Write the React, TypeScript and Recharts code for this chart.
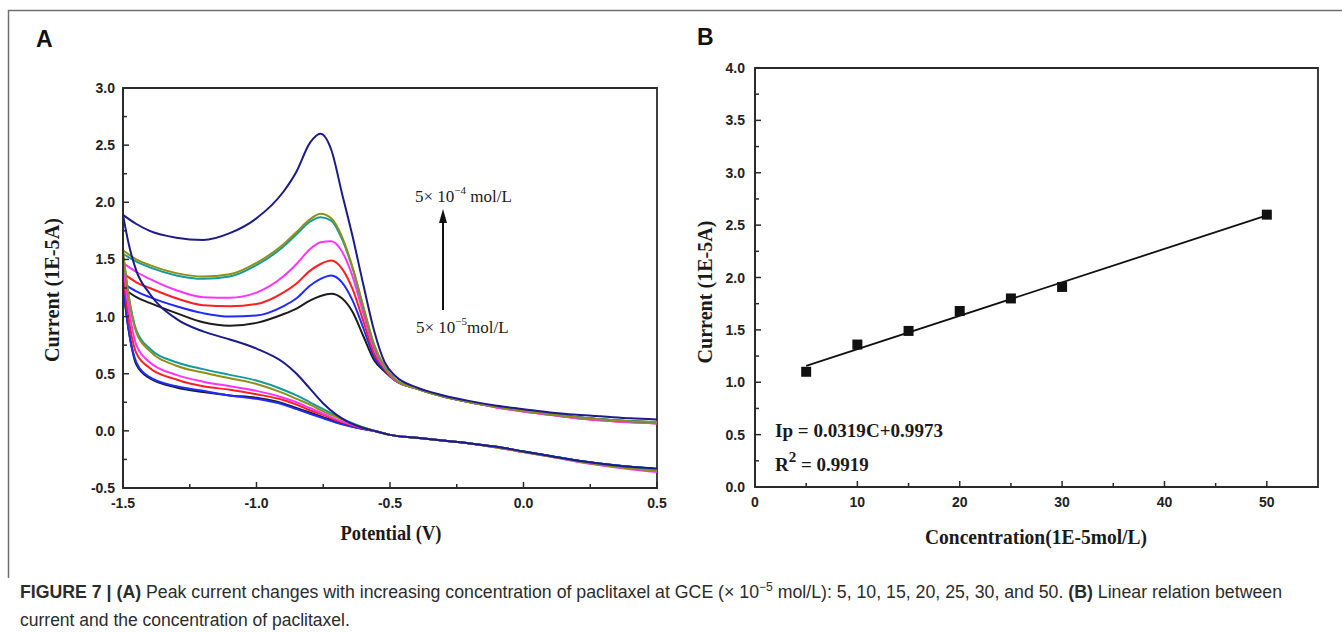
import React from "react";
import {
  LineChart, ComposedChart, Line, Scatter, XAxis, YAxis, ZAxis, ReferenceArea,
} from "recharts";

// ---------- panel A: cyclic voltammograms (V vs 1E-5 A) ----------
const fwdPotential = [-1.5, -1.45, -1.4, -1.3, -1.2, -1.1, -1.0, -0.9, -0.85, -0.8, -0.76, -0.72, -0.68, -0.64, -0.6, -0.56, -0.52, -0.48, -0.4, -0.3, -0.2, -0.1, 0.0, 0.1, 0.2, 0.3, 0.4, 0.5];
const revPotential = [-1.5, -1.48, -1.45, -1.4, -1.3, -1.2, -1.1, -1.0, -0.9, -0.85, -0.8, -0.75, -0.7, -0.65, -0.6, -0.55, -0.5, -0.4, -0.3, -0.2, -0.1, 0.0, 0.1, 0.2, 0.3, 0.4, 0.5];

// forward (anodic) sweep, one array per concentration (x 1E-5 mol/L)
const fwd5 = [1.25, 1.17, 1.12, 1.03, 0.95, 0.92, 0.945, 1.02, 1.07, 1.14, 1.18, 1.20, 1.16, 1.04, 0.83, 0.62, 0.52, 0.44, 0.37, 0.30, 0.25, 0.21, 0.175, 0.145, 0.12, 0.10, 0.085, 0.075];
const fwd10 = [1.29, 1.22, 1.17, 1.09, 1.03, 1.00, 1.01, 1.09, 1.16, 1.27, 1.33, 1.36, 1.30, 1.14, 0.90, 0.65, 0.53, 0.44, 0.37, 0.30, 0.25, 0.21, 0.175, 0.145, 0.12, 0.10, 0.085, 0.075];
const fwd15 = [1.38, 1.30, 1.25, 1.16, 1.10, 1.09, 1.11, 1.21, 1.29, 1.40, 1.46, 1.49, 1.42, 1.24, 0.96, 0.68, 0.54, 0.44, 0.37, 0.30, 0.25, 0.205, 0.17, 0.14, 0.11, 0.09, 0.075, 0.065];
const fwd20 = [1.47, 1.39, 1.33, 1.23, 1.17, 1.165, 1.21, 1.35, 1.46, 1.59, 1.65, 1.66, 1.57, 1.35, 1.03, 0.72, 0.55, 0.44, 0.37, 0.30, 0.25, 0.205, 0.17, 0.14, 0.11, 0.09, 0.075, 0.065];
const fwd25 = [1.55, 1.48, 1.43, 1.36, 1.33, 1.35, 1.45, 1.61, 1.72, 1.83, 1.87, 1.84, 1.68, 1.42, 1.08, 0.75, 0.56, 0.45, 0.37, 0.30, 0.25, 0.21, 0.175, 0.145, 0.12, 0.10, 0.085, 0.075];
const fwd30 = [1.58, 1.50, 1.45, 1.38, 1.35, 1.37, 1.47, 1.63, 1.74, 1.85, 1.90, 1.86, 1.70, 1.43, 1.09, 0.76, 0.56, 0.45, 0.37, 0.30, 0.25, 0.21, 0.175, 0.145, 0.12, 0.10, 0.085, 0.08];
const fwd50 = [1.89, 1.81, 1.75, 1.69, 1.67, 1.73, 1.86, 2.09, 2.27, 2.52, 2.60, 2.46, 2.08, 1.70, 1.28, 0.88, 0.60, 0.48, 0.38, 0.31, 0.26, 0.22, 0.19, 0.16, 0.14, 0.125, 0.11, 0.10];

// reverse (cathodic) sweep
const rev5 = [1.25, 0.90, 0.58, 0.46, 0.38, 0.34, 0.31, 0.29, 0.24, 0.20, 0.16, 0.12, 0.08, 0.045, 0.015, -0.005, -0.035, -0.06, -0.085, -0.11, -0.14, -0.18, -0.22, -0.26, -0.29, -0.315, -0.335];
const rev10 = [1.29, 0.90, 0.60, 0.47, 0.39, 0.35, 0.31, 0.28, 0.23, 0.19, 0.15, 0.11, 0.07, 0.04, 0.015, -0.005, -0.035, -0.06, -0.085, -0.11, -0.14, -0.18, -0.22, -0.26, -0.29, -0.315, -0.335];
const rev15 = [1.38, 1.00, 0.68, 0.55, 0.45, 0.39, 0.36, 0.32, 0.27, 0.23, 0.18, 0.14, 0.09, 0.055, 0.02, -0.005, -0.035, -0.06, -0.085, -0.11, -0.145, -0.185, -0.225, -0.265, -0.30, -0.325, -0.35];
const rev20 = [1.47, 1.10, 0.75, 0.60, 0.49, 0.43, 0.39, 0.35, 0.29, 0.25, 0.20, 0.15, 0.10, 0.06, 0.025, -0.005, -0.035, -0.06, -0.085, -0.11, -0.145, -0.185, -0.225, -0.27, -0.305, -0.335, -0.36];
const rev25 = [1.55, 1.20, 0.88, 0.72, 0.60, 0.54, 0.49, 0.44, 0.36, 0.31, 0.25, 0.19, 0.13, 0.075, 0.03, -0.005, -0.035, -0.06, -0.085, -0.11, -0.14, -0.18, -0.22, -0.26, -0.29, -0.315, -0.34];
const rev30 = [1.58, 1.20, 0.86, 0.70, 0.57, 0.51, 0.46, 0.41, 0.33, 0.28, 0.23, 0.17, 0.12, 0.07, 0.03, -0.005, -0.035, -0.06, -0.085, -0.11, -0.145, -0.185, -0.225, -0.265, -0.30, -0.33, -0.35];
const rev50 = [1.89, 1.65, 1.40, 1.20, 0.98, 0.87, 0.80, 0.72, 0.60, 0.50, 0.37, 0.24, 0.14, 0.07, 0.025, -0.005, -0.035, -0.06, -0.085, -0.11, -0.14, -0.18, -0.22, -0.26, -0.29, -0.315, -0.33];

const cvColors = ["#1c1c1c", "#1f2bff", "#ff1f1f", "#ff33ff", "#139b9b", "#8f8f1a", "#1b1b8a"];
const cvFwd = [fwd5, fwd10, fwd15, fwd20, fwd25, fwd30, fwd50];
const cvRev = [rev5, rev10, rev15, rev20, rev25, rev30, rev50];

const potentialTicks = [-1.5, -1.25, -1.0, -0.75, -0.5, -0.25, 0, 0.25, 0.5];
const cvCurrentTicks = [-0.5, -0.25, 0, 0.25, 0.5, 0.75, 1.0, 1.25, 1.5, 1.75, 2.0, 2.25, 2.5, 2.75, 3.0];

// ---------- panel B: calibration ----------
const concentration = [5, 10, 15, 20, 25, 30, 50];
const peakCurrent = [1.10, 1.36, 1.49, 1.68, 1.80, 1.91, 2.60];
const fitSlope = 0.0319;
const fitIntercept = 0.9973;
const fitRange = [5, 50];

const concTicks = [0, 5, 10, 15, 20, 25, 30, 35, 40, 45, 50];
const calCurrentTicks = [0, 0.25, 0.5, 0.75, 1.0, 1.25, 1.5, 1.75, 2.0, 2.25, 2.5, 2.75, 3.0, 3.25, 3.5, 3.75, 4.0];

const AXIS = "#2a2a2a";
const SERIF = '"Liberation Serif", "Times New Roman", serif';
const SANS = '"Liberation Sans", Arial, sans-serif';
const tickFont: React.CSSProperties = { fontFamily: SANS, fontWeight: 700, fontSize: 14, fill: "#222" };

const isMajor = (v: number, step: number) => Math.abs(v / step - Math.round(v / step)) < 1e-6;

function LeftTick(props: any) {
  const { x, y, payload, step, digits, gap } = props;
  const major = isMajor(payload.value, step);
  return (
    <g>
      <line x1={x} x2={x + (major ? 6 : 4)} y1={y} y2={y} stroke={AXIS} strokeWidth={1.5} />
      {major && (
        <text x={x - gap} y={y} dy="0.36em" textAnchor="end" style={tickFont}>
          {payload.value.toFixed(digits)}
        </text>
      )}
    </g>
  );
}

function BottomTick(props: any) {
  const { x, y, payload, step, digits } = props;
  const major = isMajor(payload.value, step);
  return (
    <g>
      <line x1={x} x2={x} y1={y} y2={y - (major ? 6 : 4)} stroke={AXIS} strokeWidth={1.5} />
      {major && (
        <text x={x} y={y + 20} textAnchor="middle" style={tickFont}>
          {payload.value.toFixed(digits)}
        </text>
      )}
    </g>
  );
}

function CvPanel() {
  return (
    <LineChart width={680} height={560} margin={{ top: 88, right: 23, bottom: 30, left: 0 }}>
      <XAxis
        type="number" dataKey="x" domain={[-1.5, 0.5]} ticks={potentialTicks} interval={0}
        height={42} tickSize={0} tickMargin={0} tickLine={false}
        axisLine={{ stroke: AXIS, strokeWidth: 1.8 }}
        tick={(p: any) => <BottomTick {...p} step={0.5} digits={1} />}
      />
      <YAxis
        type="number" domain={[-0.5, 3.0]} ticks={cvCurrentTicks} interval={0}
        width={123} tickSize={0} tickMargin={0} tickLine={false}
        axisLine={{ stroke: AXIS, strokeWidth: 1.8 }}
        tick={(p: any) => <LeftTick {...p} step={0.5} digits={1} gap={8} />}
      />
      {cvFwd.map((ys, k) => (
        <Line
          key={"f" + k}
          data={fwdPotential.map((x, i) => ({ x, y: ys[i] }))}
          dataKey="y" type="monotone" stroke={cvColors[k]} strokeWidth={2}
          dot={false} isAnimationActive={false}
        />
      ))}
      {cvRev.map((ys, k) => (
        <Line
          key={"r" + k}
          data={revPotential.map((x, i) => ({ x, y: ys[i] }))}
          dataKey="y" type="monotone" stroke={cvColors[k]} strokeWidth={2}
          dot={false} isAnimationActive={false}
        />
      ))}
      <ReferenceArea x1={-1.5} x2={0.5} y1={-0.5} y2={3.0} fill="none" fillOpacity={0} stroke={AXIS} strokeWidth={1.8} ifOverflow="visible" />
    </LineChart>
  );
}

function CalibrationPanel() {
  const points = concentration.map((x, i) => ({ x, y: peakCurrent[i] }));
  const fit = fitRange.map((x) => ({ x, y: fitSlope * x + fitIntercept }));
  return (
    <ComposedChart width={652} height={560} margin={{ top: 68, right: 24, bottom: 30, left: 0 }}>
      <XAxis
        type="number" dataKey="x" domain={[0, 55]} ticks={concTicks} interval={0}
        height={43} tickSize={0} tickMargin={0} tickLine={false}
        axisLine={{ stroke: AXIS, strokeWidth: 1.8 }}
        tick={(p: any) => <BottomTick {...p} step={10} digits={0} />}
      />
      <YAxis
        type="number" dataKey="y" domain={[0, 4.0]} ticks={calCurrentTicks} interval={0}
        width={65} tickSize={0} tickMargin={0} tickLine={false}
        axisLine={{ stroke: AXIS, strokeWidth: 1.8 }}
        tick={(p: any) => <LeftTick {...p} step={0.5} digits={1} gap={10} />}
      />
      <ZAxis range={[100, 100]} />
      <Line data={fit} dataKey="y" type="linear" stroke="#111" strokeWidth={1.8} dot={false} isAnimationActive={false} />
      <Scatter data={points} shape="square" fill="#111" isAnimationActive={false} />
      <ReferenceArea x1={0} x2={55} y1={0} y2={4.0} fill="none" fillOpacity={0} stroke={AXIS} strokeWidth={1.8} ifOverflow="visible" />
    </ComposedChart>
  );
}

export default function App() {
  const axisTitle: React.CSSProperties = { fontFamily: SERIF, fontWeight: 700, fontSize: 20, fill: "#1a1a1a" };
  const note: React.CSSProperties = { fontFamily: SERIF, fontSize: 17, fill: "#1a1a1a" };
  const caption: React.CSSProperties = { fontFamily: SANS, fontSize: 17.5, fill: "#2b2b2b" };
  return (
    <div style={{ position: "absolute", left: 0, top: 0, width: 1342, height: 633, background: "#fff", overflow: "hidden" }}>
      <div style={{ position: "absolute", left: 0, top: 0 }}>
        <CvPanel />
      </div>
      <div style={{ position: "absolute", left: 690, top: 0 }}>
        <CalibrationPanel />
      </div>
      <svg width={1342} height={633} style={{ position: "absolute", left: 0, top: 0, pointerEvents: "none" }}>
        {/* page frame */}
        <line x1={8} x2={1342} y1={10.5} y2={10.5} stroke="#6f6f6f" strokeWidth={1.5} />
        <line x1={8.5} x2={8.5} y1={10} y2={578} stroke="#6f6f6f" strokeWidth={1.5} />

        {/* panel letters */}
        <text x={36} y={47} style={{ fontFamily: SANS, fontWeight: 700, fontSize: 23, fill: "#111" }}>A</text>
        <text x={697} y={45} style={{ fontFamily: SANS, fontWeight: 700, fontSize: 23, fill: "#111" }}>B</text>

        {/* panel A titles and annotation */}
        <text x={52} y={290} transform="rotate(-90 52 290)" dy="0.35em" textAnchor="middle" textLength={144} lengthAdjust="spacingAndGlyphs" style={axisTitle}>Current (1E-5A)</text>
        <text x={391} y={540} textAnchor="middle" textLength={101} lengthAdjust="spacingAndGlyphs" style={axisTitle}>Potential (V)</text>
        <text x={415} y={202} style={note}>
          5× 10<tspan dy={-8} fontSize={11}>−4</tspan><tspan dy={8}> mol/L</tspan>
        </text>
        <text x={416} y={333} style={note}>
          5× 10<tspan dy={-8} fontSize={11}>−5</tspan><tspan dy={8}>mol/L</tspan>
        </text>
        <line x1={443} x2={443} y1={310} y2={221} stroke="#111" strokeWidth={2} />
        <polygon points="443,209 439,223 447,223" fill="#111" />

        {/* panel B titles and fit text */}
        <text x={705} y={292} transform="rotate(-90 705 292)" dy="0.35em" textAnchor="middle" textLength={143} lengthAdjust="spacingAndGlyphs" style={axisTitle}>Current (1E-5A)</text>
        <text x={1036} y={544} textAnchor="middle" textLength={222} lengthAdjust="spacingAndGlyphs" style={axisTitle}>Concentration(1E-5mol/L)</text>
        <text x={775} y={437} textLength={168} lengthAdjust="spacingAndGlyphs" style={{ ...axisTitle, fontSize: 19 }}>Ip = 0.0319C+0.9973</text>
        <text x={775} y={471} style={{ ...axisTitle, fontSize: 19 }}>
          R<tspan dy={-9} fontSize={15}>2</tspan><tspan dy={9}> = 0.9919</tspan>
        </text>

        {/* caption */}
        <text x={20} y={598} textLength={1262} lengthAdjust="spacingAndGlyphs" style={caption}>
          <tspan fontWeight={700}>FIGURE 7 | (A)</tspan> Peak current changes with increasing concentration of paclitaxel at GCE (× 10<tspan dy={-7} fontSize={12}>−5</tspan><tspan dy={7}> mol/L): 5, 10, 15, 20, 25, 30, and 50. </tspan><tspan fontWeight={700}>(B)</tspan> Linear relation between
        </text>
        <text x={20} y={626} style={caption}>current and the concentration of paclitaxel.</text>
      </svg>
    </div>
  );
}
